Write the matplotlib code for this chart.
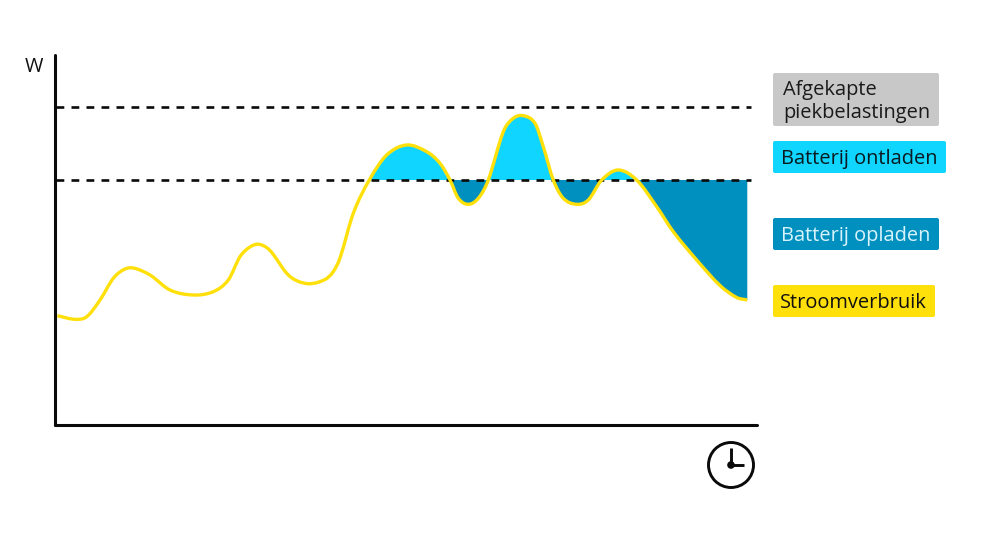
import numpy as np
import matplotlib
matplotlib.use("Agg")
import matplotlib.pyplot as plt
from matplotlib.path import Path
from matplotlib.patches import PathPatch, FancyBboxPatch, Circle, Rectangle

plt.rcParams['font.family'] = ['Open Sans', 'DejaVu Sans']
plt.rcParams['lines.scale_dashes'] = False

# time (arbitrary units from the y axis) and power (arbitrary units from the x axis)
time_values = [1.3, 19, 30.7, 44, 57.3, 68, 77.3, 94, 114, 137.3, 157.3, 172.3, 184, 194, 203, 214,
               230.7, 240.7, 254, 269, 277, 284, 297.3, 313.3, 330.7, 350.7, 370.7, 384, 394,
               402.3, 412.3, 422.3, 432.3, 447.3, 457.3, 467.3, 479, 487.3, 497.3,
               507.3, 520.7, 532.3, 545.7, 562.3, 580.7, 600.7, 617.3, 640.7, 664, 680.7, 691.3]
power_values = [109.3, 105.7, 108.3, 125, 146.7, 155.5, 157, 150, 135, 130, 133.3, 145, 168.3, 178, 180.7, 174.5,
                151.7, 144.3, 141.3, 145.5, 153, 167, 211.7, 245, 270, 280, 273.3, 261.7, 245,
                226.7, 220.7, 226.7, 245, 293.3, 306.7, 309.3, 301.7, 278.3, 245,
                226.7, 220.7, 225, 245, 255, 245, 218.3, 193.3, 165, 139.5, 127.5, 125]
cap_level = 318.5
battery_level = 245
legend_labels = ["Afgekapte\npiekbelastingen", "Batterij ontladen", "Batterij opladen", "Stroomverbruik"]
legend_colors = ["#c8c8c8", "#10d5ff", "#0090bf", "#ffe00a"]
legend_text_colors = ["#1a1a1a", "#0a1a20", "#d9f3fb", "#111111"]
y_label = "W"

W, H = 1000, 542
fig = plt.figure(figsize=(W / 100, H / 100), dpi=100)
ax = fig.add_axes([55 / W, 1 - 425 / H, 702 / W, 370 / H])
ax.set_xlim(-1, 701)
ax.set_ylim(0, 370)
ax.set_xticks([])
ax.set_yticks([])
for s in ('top', 'right'):
    ax.spines[s].set_visible(False)
for s in ('left', 'bottom'):
    ax.spines[s].set_linewidth(2.2)
    ax.spines[s].set_color('#0a0a0a')
    ax.spines[s].set_capstyle('round')
    ax.spines[s].set_zorder(6)


def smooth_path(xs, ys):
    """Bezier path through the read values."""
    p = np.column_stack([xs, ys])
    n = len(p)
    h = np.diff(p[:, 0])
    m = np.zeros(n)
    m[1:-1] = (p[2:, 1] - p[:-2, 1]) / (h[1:] + h[:-1])
    m[0] = (p[1, 1] - p[0, 1]) / h[0]
    m[-1] = (p[-1, 1] - p[-2, 1]) / h[-1]
    verts = [p[0]]
    codes = [Path.MOVETO]
    for i in range(n - 1):
        verts += [(p[i, 0] + h[i] / 3, p[i, 1] + m[i] * h[i] / 3),
                  (p[i + 1, 0] - h[i] / 3, p[i + 1, 1] - m[i + 1] * h[i] / 3),
                  p[i + 1]]
        codes += [Path.CURVE4] * 3
    return verts, codes


start = power_values.index(battery_level)
verts, codes = smooth_path(time_values[start:], power_values[start:])
area = Path(verts + [(time_values[-1], battery_level), (time_values[start], battery_level)],
            codes + [Path.LINETO, Path.LINETO])

upper = PathPatch(area, facecolor=legend_colors[1], edgecolor='none', zorder=2)
ax.add_patch(upper)
upper.set_clip_path(Rectangle((0, battery_level), 701, 125, transform=ax.transData))
lower = PathPatch(area, facecolor=legend_colors[2], edgecolor='none', zorder=2)
ax.add_patch(lower)
lower.set_clip_path(Rectangle((0, 0), 701, battery_level, transform=ax.transData))

for level in (cap_level, battery_level):
    ax.plot([0, 695], [level, level], color='#0a0a0a', lw=1.9,
            linestyle=(0, (5.6, 5.2)), dash_capstyle='butt', zorder=3)

v, c = smooth_path(time_values, power_values)
ax.add_patch(PathPatch(Path(v, c), facecolor='none', edgecolor=legend_colors[3], lw=2.4,
                       capstyle='butt', zorder=4))

# overlay in figure pixels for the legend tags and clock icon
ov = fig.add_axes([0, 0, 1, 1], facecolor='none')
ov.set_xlim(0, W)
ov.set_ylim(H, 0)
ov.axis('off')

boxes = [(773, 73, 166, 53), (773, 141, 173, 32), (773, 218, 166, 32), (773, 285, 162, 32)]
text_x = [783, 781, 781, 780]
for (x, y, w, h), col, lab, tc, tx in zip(boxes, legend_colors, legend_labels, legend_text_colors, text_x):
    ov.add_patch(FancyBboxPatch((x + 2, y + 2), w - 4, h - 4, boxstyle="round,pad=2,rounding_size=2",
                                facecolor=col, edgecolor='none'))
    ov.text(tx, y + h / 2 + 2, lab, fontsize=14.4, color=tc, ha='left', va='center', linespacing=1.2)

ov.text(34, 67, y_label, fontsize=14.4, color='#111111', ha='center', va='center')

cx, cy = 731, 465
ov.add_patch(Circle((cx, cy), 22.5, facecolor='none', edgecolor='#0a0a0a', lw=2.1))
ov.plot([cx, cx], [cy, 448], color='#0a0a0a', lw=2.1, solid_capstyle='butt')
ov.plot([cx, 744], [cy, cy], color='#0a0a0a', lw=2.1, solid_capstyle='butt')
ov.add_patch(Circle((cx, cy), 3.8, facecolor='#0a0a0a', edgecolor='none'))

fig.savefig('out.png', dpi=100, facecolor='white')
